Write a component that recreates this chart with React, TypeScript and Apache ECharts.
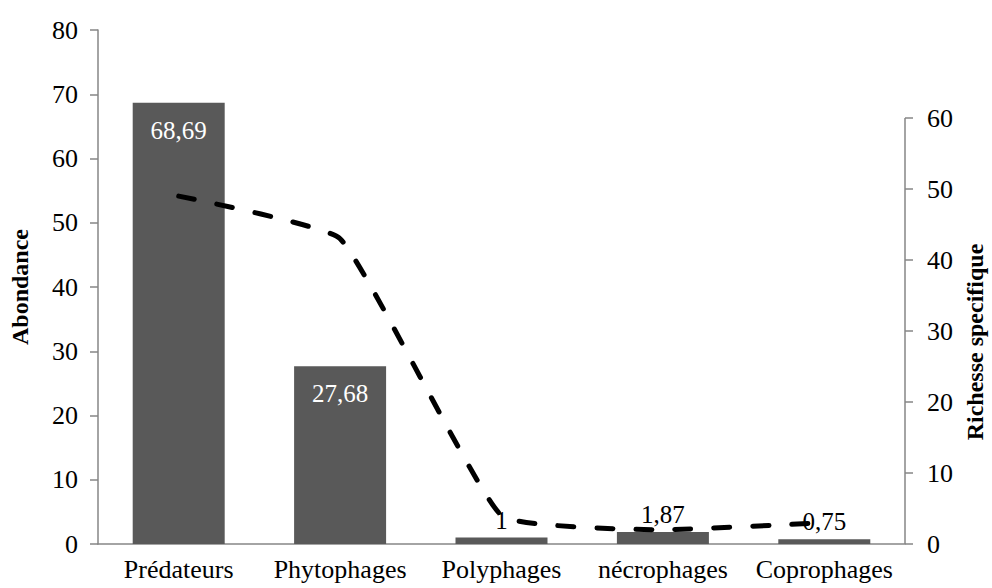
import React, { useEffect, useRef } from "react";
import * as echarts from "echarts";

const categories = ["Prédateurs", "Phytophages", "Polyphages", "nécrophages", "Coprophages"];
const abondance = [68.69, 27.68, 1, 1.87, 0.75];
const richesse = [49, 43, 4, 2, 3];
const leftTicks = [0, 10, 20, 30, 40, 50, 60, 70, 80];
const rightTicks = [0, 10, 20, 30, 40, 50, 60];
const rightMax = 72.4;

const FONT = '"Liberation Serif", "Times New Roman", serif';
const AXIS_GRAY = "#868686";
const BAR_COLOR = "#595959";

const fmt = (v: number) => String(v).replace(".", ",");

export default function App() {
  const ref = useRef<HTMLDivElement>(null);
  useEffect(() => {
    if (!ref.current) return;
    const chart = echarts.init(ref.current, undefined, { renderer: "svg" });
    const barData = abondance.map((v) => ({
      value: v,
      label:
        v > 10
          ? { position: "insideTop", distance: 15, color: "#ffffff" }
          : { position: "top", distance: 5, color: "#000000" },
    }));
    chart.setOption({
      animation: false,
      backgroundColor: "#ffffff",
      textStyle: { fontFamily: FONT },
      grid: { left: 95, right: 87, top: 30, bottom: 44 },
      xAxis: {
        type: "category",
        data: categories,
        axisLine: { lineStyle: { color: AXIS_GRAY, width: 1.5 } },
        axisTick: { show: false },
        axisLabel: { color: "#000", fontSize: 26, fontFamily: FONT, margin: 12, interval: 0 },
      },
      yAxis: [
        {
          type: "value",
          min: leftTicks[0],
          max: leftTicks[leftTicks.length - 1],
          interval: 10,
          name: "Abondance",
          nameLocation: "middle",
          nameGap: 66,
          nameTextStyle: { fontSize: 24, fontWeight: "bold", color: "#000", fontFamily: FONT },
          splitLine: { show: false },
          axisLine: { show: true, lineStyle: { color: AXIS_GRAY, width: 1.5 } },
          axisTick: { show: true, length: 8, lineStyle: { color: AXIS_GRAY, width: 1.5 } },
          axisLabel: { color: "#000", fontSize: 26, fontFamily: FONT, margin: 20 },
        },
        {
          type: "value",
          min: 0,
          max: rightMax,
          interval: 10,
          position: "right",
          splitLine: { show: false },
          axisLine: { show: false },
          axisTick: {
            show: true,
            length: 8,
            customValues: rightTicks,
            lineStyle: { color: AXIS_GRAY, width: 1.5 },
          },
          axisLabel: {
            color: "#000",
            fontSize: 26,
            fontFamily: FONT,
            margin: 22,
            customValues: rightTicks,
          },
        },
      ],
      series: [
        {
          type: "bar",
          data: barData,
          barWidth: "57%",
          itemStyle: { color: BAR_COLOR },
          label: {
            show: true,
            fontSize: 25,
            fontFamily: FONT,
            formatter: (p: any) => fmt(p.value),
          },
          z: 2,
        },
        {
          type: "line",
          yAxisIndex: 1,
          data: richesse,
          smooth: 0.12,
          symbol: "none",
          lineStyle: { color: "#000", width: 5, type: [16, 23], cap: "round" },
          z: 3,
        },
      ],
    });
    const x = chart.convertToPixel({ xAxisIndex: 0 }, categories.length - 1);
    const xLeft = chart.convertToPixel({ xAxisIndex: 0 }, 0);
    const bandW = categories.length > 1 ? (x - xLeft) / (categories.length - 1) : 0;
    const axisX = x + bandW / 2;
    const y0 = chart.convertToPixel({ yAxisIndex: 1 }, rightTicks[0]);
    const y60 = chart.convertToPixel({ yAxisIndex: 1 }, rightTicks[rightTicks.length - 1]);
    chart.setOption({
      graphic: [
        {
          type: "line",
          shape: { x1: axisX, y1: y0, x2: axisX, y2: y60 },
          style: { stroke: AXIS_GRAY, lineWidth: 1.5 },
          z: 10,
        },
        {
          type: "text",
          x: 975,
          y: 342,
          rotation: Math.PI / 2,
          style: {
            text: "Richesse specifique",
            font: `bold 24px ${FONT}`,
            fill: "#000",
            align: "center",
            verticalAlign: "middle",
          },
        },
      ],
    });
    return () => chart.dispose();
  }, []);
  return <div ref={ref} style={{ width: 992, height: 588, position: "absolute", left: 0, top: 0 }} />;
}
